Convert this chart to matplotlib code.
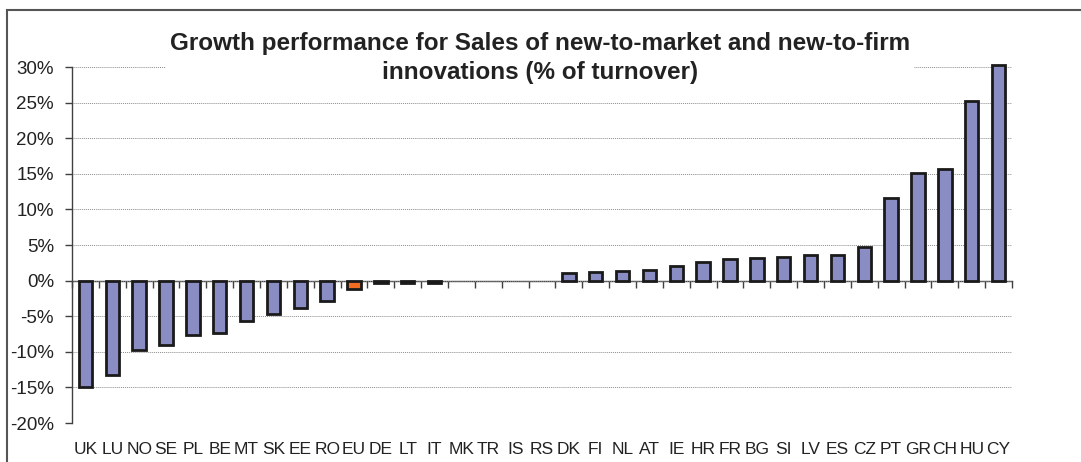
import numpy as np
import matplotlib
matplotlib.use("Agg")
import matplotlib.pyplot as plt
from matplotlib.patches import Rectangle

# Growth performance (%), countries sorted from lowest to highest
countries = ["UK", "LU", "NO", "SE", "PL", "BE", "MT", "SK", "EE", "RO", "EU",
             "DE", "LT", "IT", "MK", "TR", "IS", "RS", "DK", "FI", "NL", "AT",
             "IE", "HR", "FR", "BG", "SI", "LV", "ES", "CZ", "PT", "GR", "CH",
             "HU", "CY"]
growth = [-14.9, -13.2, -9.7, -9.1, -7.6, -7.4, -5.7, -4.7, -3.8, -2.8, -1.2,
          -0.3, -0.3, -0.3, 0.0, 0.0, 0.0, 0.0, 1.0, 1.2, 1.4, 1.5,
          2.1, 2.55, 3.1, 3.2, 3.35, 3.55, 3.6, 4.75, 11.6, 15.1, 15.7,
          25.2, 30.3]
y_ticks = [-20, -15, -10, -5, 0, 5, 10, 15, 20, 25, 30]

plt.rcParams["font.family"] = ["Liberation Sans", "DejaVu Sans"]

W, H = 1081, 462
fig = plt.figure(figsize=(W / 100, H / 100), dpi=100)
ax = fig.add_axes([72 / W, 1 - 423 / H, 940 / W, 356 / H])

x = np.arange(len(countries))
colors = ["#F26D21" if c == "EU" else "#8A8DC4" for c in countries]
# countries without data (zero) get no outline either
edges = [0 if v == 0 else 2.0 for v in growth]
bars = ax.bar(x, growth, width=0.5, color=colors, edgecolor="#1a1a1a",
              linewidth=edges, zorder=3)
for b in bars:
    b.set_clip_on(False)

ax.set_xlim(-0.5, len(countries) - 0.5)
ax.set_ylim(-20, 30)
ax.set_yticks(y_ticks)
ax.set_yticklabels([f"{v}%" for v in y_ticks], fontsize=13.5, color="#222222")
ax.yaxis.grid(True, linestyle=(0, (1, 1)), color="#8c8c8c", linewidth=0.7)
ax.set_axisbelow(True)

ax.set_xticks(x)
ax.set_xticklabels(countries, fontsize=12.5, color="#222222")
ax.tick_params(axis="x", length=0, pad=14)
ax.tick_params(axis="y", direction="out", length=5, width=1,
               color="#404040", pad=8)

for side in ["top", "right", "bottom"]:
    ax.spines[side].set_visible(False)
ax.spines["left"].set_color("#404040")
ax.spines["left"].set_linewidth(1.0)

# zero line with category separator ticks
zero = ax.secondary_xaxis(0.4)
zero.set_xticks(np.arange(-0.5, len(countries), 1.0))
zero.set_xticklabels([])
zero.tick_params(direction="out", length=5, width=1, color="#404040")
zero.spines["bottom"].set_color("#404040")
zero.spines["bottom"].set_linewidth(1.0)

fig.text(540 / W, 1 - 58 / H,
         "Growth performance for Sales of new-to-market and new-to-firm\n"
         "innovations (% of turnover)",
         ha="center", va="center", fontsize=17.5, fontweight="bold",
         color="#222222", linespacing=1.3,
         bbox=dict(facecolor="white", edgecolor="none", pad=3))

# outer chart frame
fig.add_artist(Rectangle((7 / W, -0.2), 2.0, 1.2 - 10 / H,
                         transform=fig.transFigure, fill=False,
                         edgecolor="#555555", linewidth=1.5))

fig.savefig("out.png", dpi=100)
